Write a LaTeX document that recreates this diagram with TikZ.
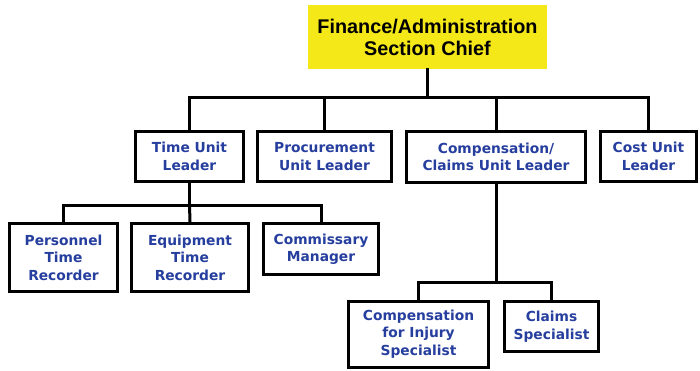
\documentclass[tikz,border=0pt]{standalone}
\usepackage{fontspec}
\setmainfont{Liberation Sans}
\newfontfamily\unitfont{DejaVu Sans}
\definecolor{chiefyellow}{RGB}{245,232,24}
\definecolor{unitblue}{RGB}{38,62,158}

\begin{document}
\begin{tikzpicture}[x=1pt,y=-1pt]
		\tikzstyle{unit}=[draw=black, line width=3pt, fill=white, align=center, inner sep=0pt,
			font=\unitfont\bfseries\fontsize{13.8}{17.5}\selectfont, text=unitblue]
		\tikzstyle{link}=[line width=3pt, line cap=rect]
		\useasboundingbox (0,0) rectangle (700,371);
		% chief
		\node [fill=chiefyellow, minimum width=239pt, minimum height=64pt, align=center,
			font=\bfseries\fontsize{19.8}{22}\selectfont] (chief) at (427.5,37)
			{Finance/Administration\\Section Chief};
		% unit leaders
		\node [unit, minimum width=108pt, minimum height=50pt] (time) at (189.5,156.5) {Time Unit\\Leader};
		\node [unit, minimum width=134pt, minimum height=50pt] (proc) at (324.5,156.5) {Procurement\\Unit Leader};
		\node [unit, minimum width=179pt, minimum height=51pt] (comp) at (496,157) {Compensation/\\Claims Unit Leader};
		\node [unit, minimum width=96pt, minimum height=50pt] (cost) at (648.5,156.5) {Cost Unit\\Leader};
		% time unit
		\node [unit, minimum width=108pt, minimum height=68pt] (pers) at (63.5,257.5) {Personnel\\Time\\Recorder};
		\node [unit, minimum width=117pt, minimum height=68pt] (equip) at (190,257.5) {Equipment\\Time\\Recorder};
		\node [unit, minimum width=115pt, minimum height=51pt] (comm) at (321,249) {Commissary\\Manager};
		% compensation/claims unit
		\node [unit, minimum width=140pt, minimum height=66pt] (injury) at (418.5,334) {Compensation\\for Injury\\Specialist};
		\node [unit, minimum width=94pt, minimum height=50pt] (claims) at (551.5,326.5) {Claims\\Specialist};
		% connectors
		\coordinate (bar1) at (427.5,98);
		\coordinate (bar2) at (189.5,205);
		\coordinate (bar3) at (496,282);
		\draw [link] (chief.south) -- (bar1);
		\draw [link] (bar1) -| (time.north);
		\draw [link] (bar1) -| (cost.north);
		\draw [link] (proc.north) -- (proc.north |- bar1);
		\draw [link] (comp.north) -- (comp.north |- bar1);
		\draw [link] (time.south) -- (bar2);
		\draw [link] (bar2) -| (pers.north);
		\draw [link] (bar2) -| (comm.north);
		\draw [link] (bar2) -- (equip.north);
		\draw [link] (comp.south) -- (bar3);
		\draw [link] (bar3) -| (injury.north);
		\draw [link] (bar3) -| (claims.north);
\end{tikzpicture}
\end{document}
